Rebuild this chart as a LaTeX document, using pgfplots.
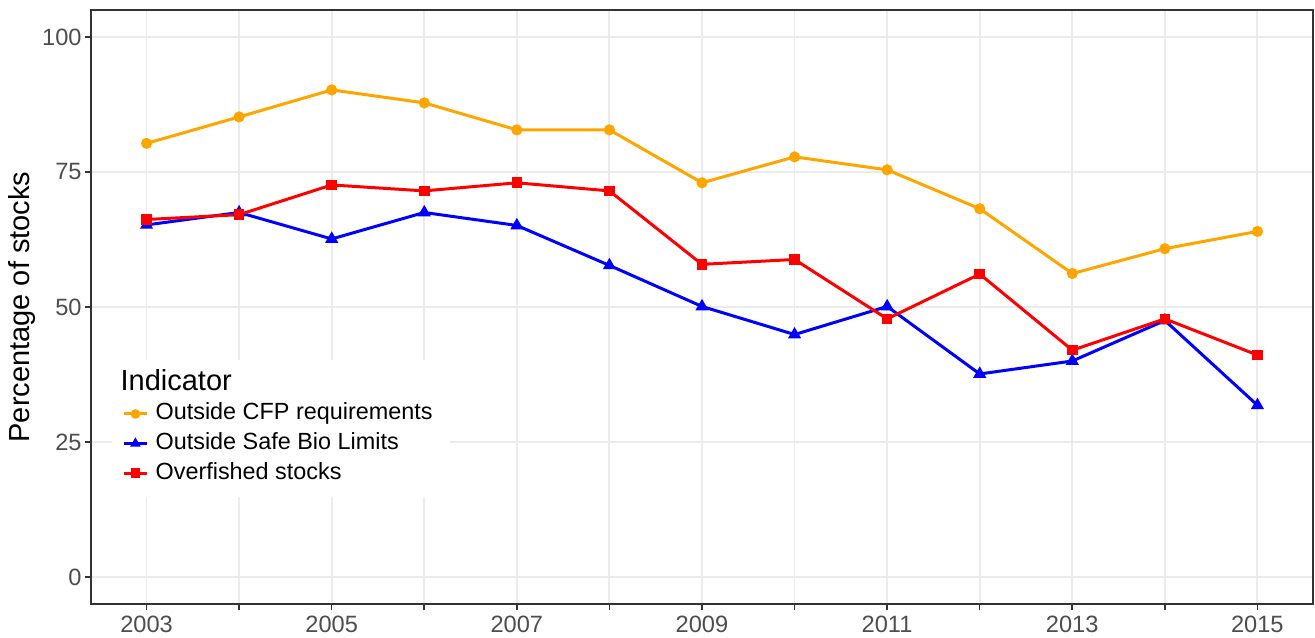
\documentclass[border=0pt]{standalone}
\usepackage{pgfplots}
\pgfplotsset{compat=1.18}
\usepackage{fontspec}
\setmainfont{Liberation Sans}
\definecolor{cfp}{HTML}{FFA500}
\definecolor{sbl}{HTML}{0000FF}
\definecolor{ovf}{HTML}{FF0000}
\definecolor{gridc}{HTML}{EBEBEB}
\definecolor{tickc}{HTML}{4D4D4D}
\definecolor{framec}{HTML}{333333}
\begin{document}
\begin{tikzpicture}
\begin{axis}[
  scale only axis, width=611pt, height=297pt,
  xmin=2002.4, xmax=2015.6, ymin=-5, ymax=105,
  xtick={2003,...,2015},
  xticklabels={2003,,2005,,2007,,2009,,2011,,2013,,2015},
  ytick={0,25,50,75,100},
  grid=major,
  major grid style={draw=gridc, line width=0.9pt},
  axis line style={draw=framec, line width=0.8pt},
  tick align=outside, major tick length=3pt,
  tick style={draw=framec, line width=0.8pt},
  xtick pos=bottom, ytick pos=left,
  /pgf/number format/assume math mode=true,
  ticklabel style={font=\fontsize{11.8}{13}\selectfont, text=tickc},
  xticklabel style={inner sep=3pt},
  yticklabel style={inner sep=1.5pt},
  ylabel={Percentage of stocks},
  every axis y label/.style={at={(rel axis cs:0,0.5)}, anchor=center, rotate=90, yshift=34.5pt, font=\fontsize{14.5}{16}\selectfont},
  legend cell align=left,
  legend style={at={(rel axis cs:0.0172,0.4108)}, anchor=north west, fill=white, draw=none,
    inner xsep=5pt, inner ysep=5pt, row sep=0.8pt, font=\fontsize{11.7}{13}\selectfont,
    nodes={text height=8.5pt, text depth=2.5pt, inner ysep=1.5pt, inner xsep=3.6pt}},
  legend image code/.code={\draw[mark repeat=2, mark phase=2, #1, mark size=1.6pt] plot coordinates {(0pt,0pt) (5.75pt,0pt) (11.5pt,0pt)};},
]
\addlegendimage{empty legend}
\addlegendentry{\hspace*{-17.5pt}\fontsize{14.5}{16}\selectfont Indicator}

\addplot[color=cfp, line width=1.5pt, mark=*, mark size=2pt] coordinates {
(2003,80.3) (2004,85.2) (2005,90.2) (2006,87.8) (2007,82.8) (2008,82.8) (2009,73.0)
(2010,77.8) (2011,75.4) (2012,68.2) (2013,56.2) (2014,60.8) (2015,64.0)};
\addlegendentry{Outside CFP requirements}

\addplot[color=sbl, line width=1.5pt, mark=triangle*, mark size=2.3pt] coordinates {
(2003,65.2) (2004,67.5) (2005,62.6) (2006,67.5) (2007,65.1) (2008,57.7) (2009,50.1)
(2010,44.9) (2011,50.1) (2012,37.6) (2013,40.0) (2014,47.5) (2015,31.8)};
\addlegendentry{Outside Safe Bio Limits}

\addplot[color=ovf, line width=1.5pt, mark=square*, mark size=1.9pt] coordinates {
(2003,66.2) (2004,67.1) (2005,72.6) (2006,71.5) (2007,73.0) (2008,71.5) (2009,57.9)
(2010,58.8) (2011,47.8) (2012,56.1) (2013,42.0) (2014,47.8) (2015,41.1)};
\addlegendentry{Overfished stocks}

\coordinate (sw) at (rel axis cs:0,0);
\coordinate (ne) at (rel axis cs:1,1);
\end{axis}
\pgfresetboundingbox
\path[use as bounding box] ([shift={(-45.5pt,-16.5pt)}]sw) rectangle ([shift={(1pt,5pt)}]ne);
\end{tikzpicture}
\end{document}
